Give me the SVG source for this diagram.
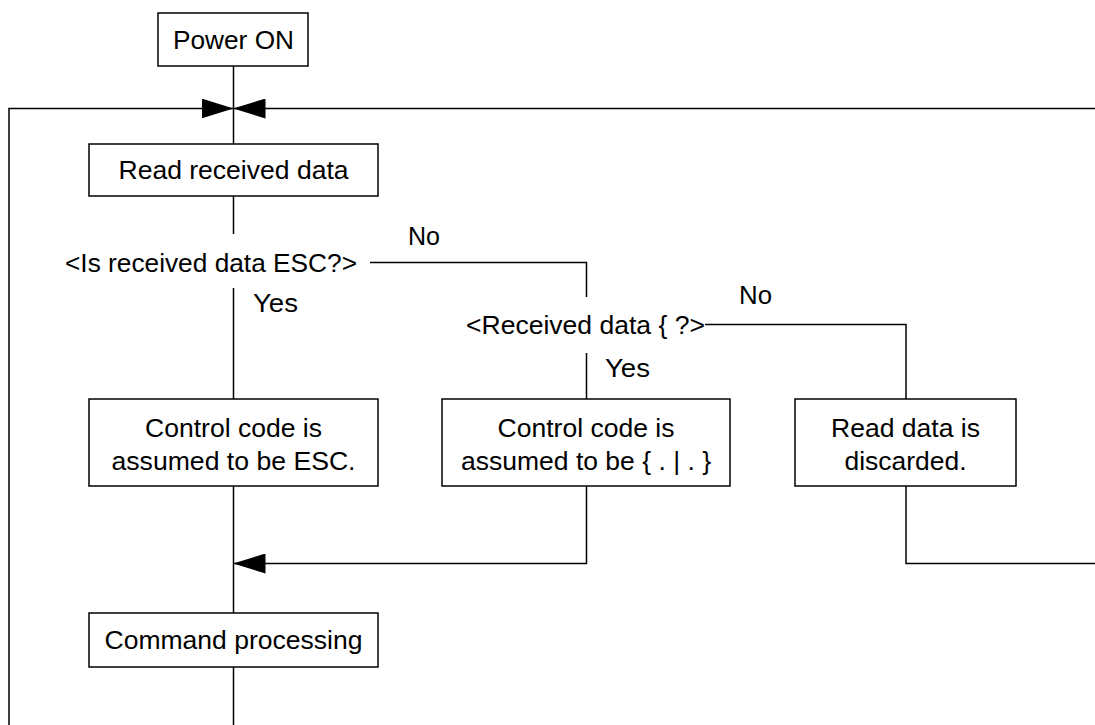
<svg xmlns="http://www.w3.org/2000/svg" width="1095" height="725" viewBox="0 0 1095 725">
<style>
.box{fill:#fff;stroke:#000;stroke-width:1.5}
.ln{fill:none;stroke:#000;stroke-width:1.5}
.t{font-family:"Liberation Sans",Arial,sans-serif;font-size:26px;fill:#000}
.m{text-anchor:middle}
</style>
<defs>
<marker id="ah" viewBox="0 0 32 20" refX="32" refY="10" markerWidth="32" markerHeight="20" markerUnits="userSpaceOnUse" orient="auto">
<path d="M0,0 L32,10 L0,20 Z" fill="#000"/>
</marker>
</defs>
<rect width="1095" height="725" fill="#fff"/>
<g id="connectors">
<line class="ln" x1="233.5" y1="66" x2="233.5" y2="144"/>
<polyline class="ln" points="9,725 9,108.5 233.5,108.5" marker-end="url(#ah)"/>
<line class="ln" x1="1095" y1="108.5" x2="233.5" y2="108.5" marker-end="url(#ah)"/>
<line class="ln" x1="233.5" y1="196" x2="233.5" y2="234"/>
<polyline class="ln" points="370,262.5 586.5,262.5 586.5,297"/>
<line class="ln" x1="233.5" y1="288" x2="233.5" y2="399"/>
<polyline class="ln" points="705,324.5 906,324.5 906,399"/>
<line class="ln" x1="586.5" y1="353" x2="586.5" y2="399"/>
<polyline class="ln" points="586.5,486 586.5,563.5 233.5,563.5" marker-end="url(#ah)"/>
<polyline class="ln" points="906,486 906,563.5 1095,563.5"/>
<line class="ln" x1="233.5" y1="486" x2="233.5" y2="613"/>
<line class="ln" x1="233.5" y1="667" x2="233.5" y2="725"/>
</g>
<g id="power-on">
<rect class="box" x="158" y="13" width="150" height="53"/>
<text class="t m" x="233.5" y="49" textLength="121" lengthAdjust="spacingAndGlyphs">Power ON</text>
</g>
<g id="read-received-data">
<rect class="box" x="89" y="144" width="289" height="52"/>
<text class="t m" x="233.5" y="179" textLength="230" lengthAdjust="spacingAndGlyphs">Read received data</text>
</g>
<g id="decision-esc">
<text class="t" x="65" y="272" textLength="292" lengthAdjust="spacingAndGlyphs">&lt;Is received data ESC?&gt;</text>
<text class="t" x="408" y="245" textLength="32" lengthAdjust="spacingAndGlyphs">No</text>
<text class="t" x="253" y="312" textLength="45" lengthAdjust="spacingAndGlyphs">Yes</text>
</g>
<g id="decision-brace">
<text class="t" x="466" y="334" textLength="239" lengthAdjust="spacingAndGlyphs">&lt;Received data { ?&gt;</text>
<text class="t" x="739" y="304" textLength="33" lengthAdjust="spacingAndGlyphs">No</text>
<text class="t" x="605" y="377" textLength="45" lengthAdjust="spacingAndGlyphs">Yes</text>
</g>
<g id="control-esc">
<rect class="box" x="89" y="399" width="289" height="87"/>
<text class="t m" x="233.5" y="437" textLength="177" lengthAdjust="spacingAndGlyphs">Control code is</text>
<text class="t m" x="233.5" y="470" textLength="244" lengthAdjust="spacingAndGlyphs">assumed to be ESC.</text>
</g>
<g id="control-brace">
<rect class="box" x="442" y="399" width="288" height="87"/>
<text class="t m" x="586" y="437" textLength="177" lengthAdjust="spacingAndGlyphs">Control code is</text>
<text class="t m" x="586" y="470" textLength="250" lengthAdjust="spacingAndGlyphs">assumed to be { . | . }</text>
</g>
<g id="discard">
<rect class="box" x="795" y="399" width="221" height="87"/>
<text class="t m" x="905.5" y="437" textLength="149" lengthAdjust="spacingAndGlyphs">Read data is</text>
<text class="t m" x="905.5" y="470" textLength="122" lengthAdjust="spacingAndGlyphs">discarded.</text>
</g>
<g id="command-processing">
<rect class="box" x="89" y="613" width="289" height="54"/>
<text class="t m" x="233.5" y="649" textLength="258" lengthAdjust="spacingAndGlyphs">Command processing</text>
</g>
</svg>
